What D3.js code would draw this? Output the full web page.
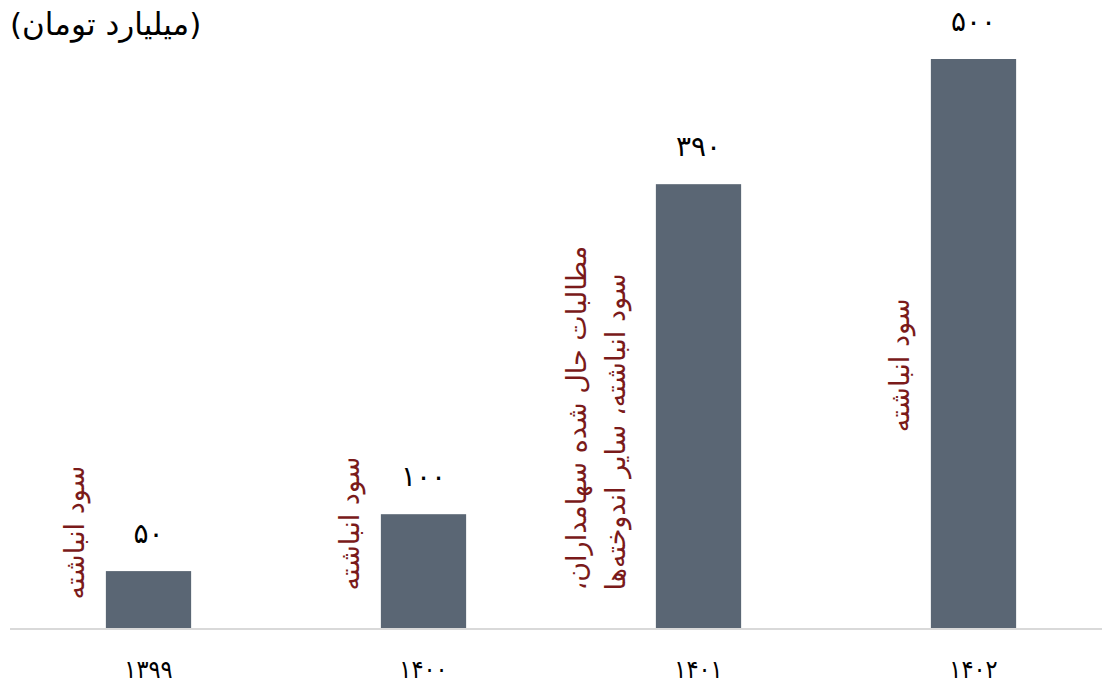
<!DOCTYPE html>
<html>
<head>
    <meta charset="utf-8">
    <title>سود انباشته</title>
    <script src="https://d3js.org/d3.v7.min.js"></script>
    <style>
        body { margin: 0; background: #fff; }
        text { font-family: "DejaVu Sans", sans-serif; }
    </style>
</head>
<body>
    <div id="chart"></div>
    <script>
        // years (x categories) and values in billion toman
        var years = ["۱۳۹۹", "۱۴۰۰", "۱۴۰۱", "۱۴۰۲"];
        var values = [50, 100, 390, 500];
        var valueLabels = ["۵۰", "۱۰۰", "۳۹۰", "۵۰۰"];
        // rotated notes beside each bar (one or two lines)
        var notes = [
            ["سود انباشته"],
            ["سود انباشته"],
            ["مطالبات حال شده سهامداران،", "سود انباشته، سایر اندوخته‌ها"],
            ["سود انباشته"]
        ];
        // where the bottom of each note sits, in value units
        var noteBase = [25, 33, 33, 172];

        var W = 1102, H = 685;
        var svg = d3.select("#chart").append("svg")
            .attr("width", W)
            .attr("height", H);

        var x = d3.scaleBand()
            .domain(years)
            .range([11, 1111])
            .paddingInner(0.69)
            .paddingOuter(0.345);

        var y = d3.scaleLinear()
            .domain([0, 500])
            .range([628, 59]);

        // bars
        svg.selectAll(".bar")
            .data(values)
            .enter().append("rect")
            .attr("class", "bar")
            .attr("x", (d, i) => x(years[i]))
            .attr("y", d => y(d))
            .attr("width", x.bandwidth())
            .attr("height", d => y(0) - y(d))
            .attr("fill", "#5a6674");

        // baseline
        svg.append("line")
            .attr("x1", 10).attr("x2", W)
            .attr("y1", y(0) + 1).attr("y2", y(0) + 1)
            .attr("stroke", "#d9d9d9")
            .attr("stroke-width", 2);

        // value labels
        svg.selectAll(".val")
            .data(values)
            .enter().append("text")
            .attr("class", "val")
            .attr("x", (d, i) => x(years[i]) + x.bandwidth() / 2)
            .attr("y", d => y(d) - 28)
            .attr("text-anchor", "middle")
            .attr("font-size", 28)
            .attr("fill", "#000")
            .text((d, i) => valueLabels[i]);

        // x axis labels
        var xAxis = svg.append("g")
            .attr("transform", "translate(0," + (y(0) + 1) + ")")
            .call(d3.axisBottom(x).tickSize(0).tickPadding(31));
        xAxis.select(".domain").remove();
        xAxis.selectAll("text")
            .style("font-family", "DejaVu Sans Condensed, DejaVu Sans, sans-serif")
            .attr("font-size", 25)
            .attr("fill", "#000");

        // rotated notes
        notes.forEach(function (lines, i) {
            var n = lines.length;
            var cx = x(years[i]) - (n === 1 ? 31 : 79);
            var by = y(noteBase[i]);
            lines.forEach(function (line, j) {
                svg.append("text")
                    .attr("transform", "translate(" + (cx + j * 39) + "," + by + ") rotate(-90)")
                    .attr("direction", "rtl")
                    .attr("text-anchor", "end")
                    .attr("dy", "0.35em")
                    .attr("font-size", 27)
                    .attr("fill", "#7a1a1a")
                    .text(line);
            });
        });

        // unit title
        svg.append("text")
            .attr("x", 10)
            .attr("y", 35)
            .attr("direction", "rtl")
            .attr("text-anchor", "end")
            .attr("font-size", 31)
            .attr("fill", "#000")
            .text("(میلیارد تومان)");
    </script>
</body>
</html>
